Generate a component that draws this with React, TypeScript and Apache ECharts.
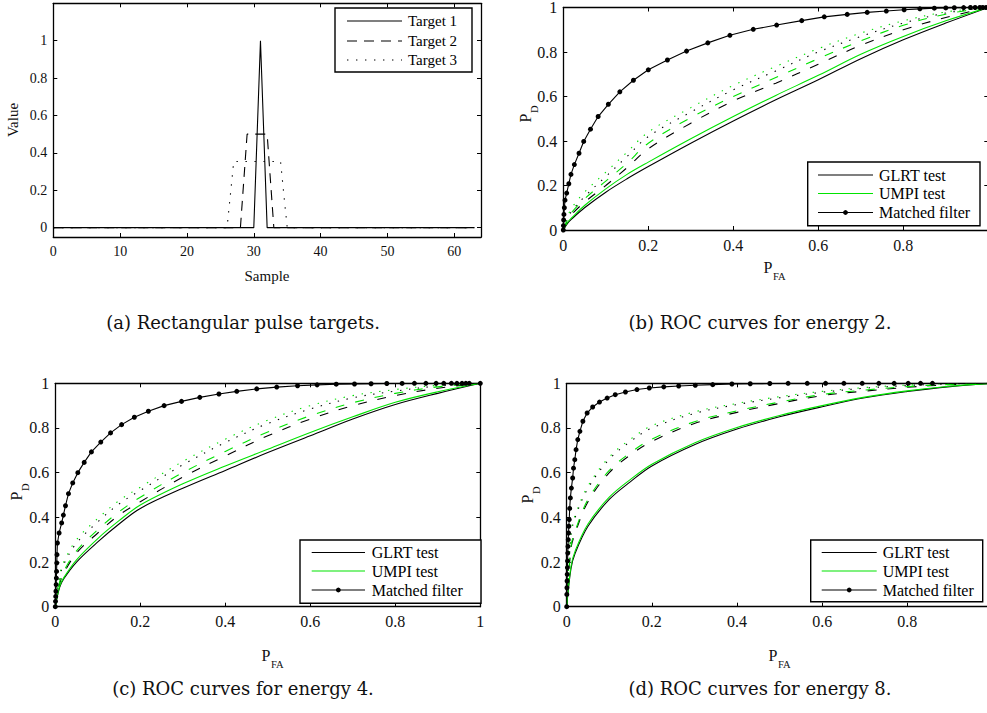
import React, { useEffect, useRef } from 'react';
import * as echarts from 'echarts';

// ---------- (a) Rectangular pulse targets ----------
const sampleIdx = Array.from({ length: 64 }, (_, i) => i);
const target1 = [
  0, 0, 0, 0, 0, 0, 0, 0, 0, 0, 0, 0, 0, 0, 0, 0,
  0, 0, 0, 0, 0, 0, 0, 0, 0, 0, 0, 0, 0, 0, 0, 1,
  0, 0, 0, 0, 0, 0, 0, 0, 0, 0, 0, 0, 0, 0, 0, 0,
  0, 0, 0, 0, 0, 0, 0, 0, 0, 0, 0, 0, 0, 0, 0, 0,
];
const target2 = [
  0, 0, 0, 0, 0, 0, 0, 0, 0, 0, 0, 0, 0, 0, 0, 0,
  0, 0, 0, 0, 0, 0, 0, 0, 0, 0, 0, 0, 0, 0.5, 0.5, 0.5,
  0.5, 0, 0, 0, 0, 0, 0, 0, 0, 0, 0, 0, 0, 0, 0, 0,
  0, 0, 0, 0, 0, 0, 0, 0, 0, 0, 0, 0, 0, 0, 0, 0,
];
const target3 = [
  0, 0, 0, 0, 0, 0, 0, 0, 0, 0, 0, 0, 0, 0, 0, 0,
  0, 0, 0, 0, 0, 0, 0, 0, 0, 0, 0, 0.354, 0.354, 0.354, 0.354, 0.354,
  0.354, 0.354, 0.354, 0, 0, 0, 0, 0, 0, 0, 0, 0, 0, 0, 0, 0,
  0, 0, 0, 0, 0, 0, 0, 0, 0, 0, 0, 0, 0, 0, 0, 0,
];
const sampleTicks = [0, 10, 20, 30, 40, 50, 60];
const valueTicks = [0, 0.2, 0.4, 0.6, 0.8, 1];
const rocTicks = [0, 0.2, 0.4, 0.6, 0.8, 1];
const rocTicksClipped = [0, 0.2, 0.4, 0.6, 0.8]; // "1" falls outside the page in (b) and (d)

// ---------- ROC curves: common P_FA grid ----------
const pfa = [0, 0.01, 0.02, 0.05, 0.1, 0.15, 0.2, 0.3, 0.4, 0.5, 0.6, 0.7, 0.8, 0.9, 1];

// energy 2
const e2GlrtT1 = [0, 0.03, 0.05, 0.1, 0.17, 0.23, 0.285, 0.39, 0.49, 0.585, 0.675, 0.77, 0.855, 0.93, 1];
const e2UmpiT1 = [0, 0.035, 0.055, 0.11, 0.185, 0.25, 0.305, 0.41, 0.51, 0.605, 0.695, 0.79, 0.87, 0.94, 1];
const e2GlrtT2 = [0, 0.04, 0.07, 0.125, 0.2, 0.28, 0.365, 0.48, 0.58, 0.66, 0.745, 0.83, 0.9, 0.955, 1];
const e2UmpiT2 = [0, 0.05, 0.08, 0.14, 0.22, 0.3, 0.39, 0.505, 0.6, 0.685, 0.77, 0.85, 0.92, 0.97, 1];
const e2GlrtT3 = [0, 0.05, 0.085, 0.15, 0.24, 0.33, 0.42, 0.53, 0.63, 0.715, 0.8, 0.87, 0.93, 0.975, 1];
const e2UmpiT3 = [0, 0.06, 0.1, 0.17, 0.26, 0.35, 0.44, 0.55, 0.65, 0.735, 0.815, 0.885, 0.94, 0.98, 1];
const e2MfX = [0, 0.0003, 0.0008, 0.0015, 0.0025, 0.004, 0.008, 0.013, 0.018, 0.026, 0.037, 0.048, 0.064, 0.082, 0.106, 0.133, 0.165, 0.2, 0.245, 0.29, 0.34, 0.392, 0.447, 0.502, 0.561, 0.614, 0.668, 0.715, 0.76, 0.802, 0.839, 0.873, 0.9, 0.92, 0.942, 0.958, 0.969, 0.98, 0.987, 0.995, 1];
const e2MfY = [0, 0.02, 0.045, 0.07, 0.1, 0.134, 0.166, 0.208, 0.25, 0.294, 0.345, 0.398, 0.453, 0.51, 0.565, 0.621, 0.673, 0.72, 0.764, 0.804, 0.841, 0.875, 0.902, 0.921, 0.941, 0.958, 0.969, 0.978, 0.984, 0.99, 0.994, 0.997, 0.998, 0.999, 0.9995, 1, 1, 1, 1, 1, 1];

// energy 4
const e4GlrtT1 = [0, 0.085, 0.125, 0.2, 0.29, 0.37, 0.44, 0.53, 0.61, 0.69, 0.765, 0.84, 0.905, 0.955, 1];
const e4UmpiT1 = [0, 0.09, 0.13, 0.21, 0.305, 0.385, 0.455, 0.55, 0.63, 0.705, 0.78, 0.85, 0.915, 0.962, 1];
const e4GlrtT2 = [0, 0.1, 0.15, 0.24, 0.33, 0.41, 0.47, 0.58, 0.675, 0.765, 0.84, 0.9, 0.945, 0.978, 1];
const e4UmpiT2 = [0, 0.11, 0.16, 0.25, 0.345, 0.425, 0.49, 0.6, 0.695, 0.782, 0.855, 0.913, 0.955, 0.984, 1];
const e4GlrtT3 = [0, 0.13, 0.19, 0.285, 0.38, 0.46, 0.52, 0.635, 0.735, 0.82, 0.885, 0.935, 0.965, 0.988, 1];
const e4UmpiT3 = [0, 0.14, 0.2, 0.3, 0.395, 0.475, 0.535, 0.65, 0.75, 0.835, 0.9, 0.945, 0.972, 0.991, 1];
const e4MfX = [0, 0.0005, 0.001, 0.0015, 0.002, 0.0025, 0.003, 0.0035, 0.004, 0.005, 0.009, 0.015, 0.019, 0.024, 0.031, 0.041, 0.053, 0.068, 0.085, 0.107, 0.13, 0.156, 0.186, 0.219, 0.256, 0.297, 0.34, 0.385, 0.427, 0.474, 0.521, 0.57, 0.616, 0.661, 0.704, 0.743, 0.78, 0.816, 0.845, 0.872, 0.896, 0.914, 0.932, 0.945, 0.957, 0.966, 0.974, 1];
const e4MfY = [0, 0.024, 0.046, 0.069, 0.099, 0.128, 0.158, 0.196, 0.233, 0.285, 0.33, 0.375, 0.41, 0.452, 0.506, 0.554, 0.6, 0.646, 0.693, 0.737, 0.778, 0.815, 0.848, 0.875, 0.9, 0.919, 0.937, 0.952, 0.964, 0.975, 0.983, 0.989, 0.993, 0.996, 0.997, 0.998, 0.999, 0.9995, 1, 1, 1, 1, 1, 1, 1, 1, 1, 1];

// energy 8
const e8GlrtT1 = [0, 0.17, 0.24, 0.36, 0.48, 0.56, 0.63, 0.725, 0.795, 0.85, 0.895, 0.935, 0.963, 0.985, 1];
const e8UmpiT1 = [0, 0.18, 0.25, 0.37, 0.49, 0.57, 0.638, 0.733, 0.802, 0.856, 0.9, 0.938, 0.966, 0.987, 1];
const e8GlrtT2 = [0, 0.26, 0.33, 0.47, 0.6, 0.68, 0.74, 0.82, 0.87, 0.91, 0.945, 0.965, 0.982, 0.994, 1];
const e8UmpiT2 = [0, 0.27, 0.34, 0.48, 0.61, 0.69, 0.75, 0.828, 0.877, 0.916, 0.95, 0.97, 0.985, 0.995, 1];
const e8GlrtT3 = [0, 0.32, 0.4, 0.53, 0.66, 0.74, 0.8, 0.865, 0.905, 0.935, 0.96, 0.978, 0.99, 0.997, 1];
const e8UmpiT3 = [0, 0.33, 0.41, 0.54, 0.67, 0.75, 0.81, 0.872, 0.91, 0.94, 0.964, 0.981, 0.992, 0.998, 1];
const e8MfX = [0, 0.0003, 0.0006, 0.0009, 0.0012, 0.0016, 0.002, 0.0025, 0.003, 0.0036, 0.0043, 0.005, 0.006, 0.007, 0.0086, 0.011, 0.014, 0.016, 0.019, 0.022, 0.026, 0.031, 0.038, 0.048, 0.061, 0.077, 0.095, 0.114, 0.138, 0.165, 0.194, 0.228, 0.263, 0.302, 0.343, 0.388, 0.431, 0.477, 0.52, 0.565, 0.608, 0.651, 0.694, 0.733, 0.769, 0.802, 0.831, 0.859, 1];
const e8MfY = [0, 0.055, 0.085, 0.115, 0.145, 0.175, 0.205, 0.24, 0.27, 0.3, 0.33, 0.36, 0.39, 0.44, 0.487, 0.531, 0.576, 0.62, 0.658, 0.703, 0.748, 0.785, 0.83, 0.867, 0.894, 0.916, 0.934, 0.949, 0.961, 0.972, 0.979, 0.984, 0.988, 0.991, 0.994, 0.997, 0.998, 0.999, 1, 1, 1, 1, 1, 1, 1, 1, 1, 1, 1];

const legendA = ['Target 1', 'Target 2', 'Target 3'];
const legendRoc = ['GLRT test', 'UMPI test', 'Matched filter'];
const captions = [
  '(a) Rectangular pulse targets.',
  '(b) ROC curves for energy 2.',
  '(c) ROC curves for energy 4.',
  '(d) ROC curves for energy 8.',
];

const SERIF = '"Liberation Serif", "Times New Roman", serif';
const CAPFONT = '"DejaVu Serif", serif';
const GREEN = '#00e400';
const DASH_A = [10, 7];
const DOT = [1.4, 7.6];
const DASH_R = [9, 11];

const zip = (xs: number[], ys: number[]) => xs.map((x, i) => [x, ys[i]]);

function makeAxes(gi: number, xmin: number, xmax: number, ymin: number, ymax: number, xt: number[], xl: number[], yt: number[], fs: number, yLineHeight?: number) {
  const line = { show: true, onZero: false, lineStyle: { color: '#000', width: 1.3 } };
  const tickStyle = { color: '#000', width: 1 };
  const lab = { color: '#111', fontFamily: SERIF, fontSize: fs };
  const xs = [
    {
      type: 'value', gridIndex: gi, min: xmin, max: xmax, position: 'bottom',
      axisLine: line, splitLine: { show: false },
      axisTick: { show: true, inside: true, length: 4, customValues: xt, lineStyle: tickStyle },
      axisLabel: { show: true, customValues: xl, margin: 7, ...lab },
    },
    {
      type: 'value', gridIndex: gi, min: xmin, max: xmax, position: 'top',
      axisLine: line, splitLine: { show: false },
      axisTick: { show: true, inside: true, length: 4, customValues: xt, lineStyle: tickStyle },
      axisLabel: { show: false },
    },
  ];
  const ys = [
    {
      type: 'value', gridIndex: gi, min: ymin, max: ymax, position: 'left',
      axisLine: line, splitLine: { show: false },
      axisTick: { show: true, inside: true, length: 4, customValues: yt, lineStyle: tickStyle },
      axisLabel: { show: true, customValues: yt, margin: 6, ...lab, ...(yLineHeight ? { lineHeight: yLineHeight } : {}) },
    },
    {
      type: 'value', gridIndex: gi, min: ymin, max: ymax, position: 'right',
      axisLine: line, splitLine: { show: false },
      axisTick: { show: true, inside: true, length: 4, customValues: yt, lineStyle: tickStyle },
      axisLabel: { show: false },
    },
  ];
  return { xs, ys };
}

function lineSeries(gi: number, data: number[][], color: string, type: any, smooth: any = 0.35, extra: any = {}) {
  return {
    type: 'line', xAxisIndex: gi * 2, yAxisIndex: gi * 2, data,
    showSymbol: false, symbol: 'none', smooth,
    lineStyle: { color, width: 1.1, type },
    silent: true, clip: true, z: 2,
    ...extra,
  };
}

function rocSeries(gi: number, curves: number[][], mfx: number[], mfy: number[]) {
  const [g1, u1, g2, u2, g3, u3] = curves;
  return [
    lineSeries(gi, zip(pfa, g1), '#000', 'solid'),
    lineSeries(gi, zip(pfa, g2), '#000', DASH_R),
    lineSeries(gi, zip(pfa, g3), '#000', DOT),
    lineSeries(gi, zip(pfa, u1), GREEN, 'solid'),
    lineSeries(gi, zip(pfa, u2), GREEN, DASH_R),
    lineSeries(gi, zip(pfa, u3), GREEN, DOT),
    {
      type: 'line', xAxisIndex: gi * 2, yAxisIndex: gi * 2, data: zip(mfx, mfy),
      showSymbol: true, symbol: 'circle', symbolSize: 5, smooth: false,
      itemStyle: { color: '#000' }, lineStyle: { color: '#000', width: 1.1 },
      silent: true, clip: true, z: 3,
    },
  ];
}

function legendBox(x: number, y: number, w: number, h: number, lx1: number, lx2: number, tx: number, ys: number[], labels: string[], styles: any[], fs: number) {
  const els: any[] = [
    { type: 'rect', z: 100, shape: { x, y, width: w, height: h }, style: { fill: '#fff', stroke: '#000', lineWidth: 1.4 } },
  ];
  labels.forEach((lab, i) => {
    const s = styles[i];
    els.push({ type: 'line', z: 101, shape: { x1: lx1, y1: ys[i], x2: lx2, y2: ys[i] }, style: { stroke: s.color, lineWidth: 1.1, lineDash: s.dash || null } });
    if (s.dot) els.push({ type: 'circle', z: 102, shape: { cx: (lx1 + lx2) / 2, cy: ys[i], r: 2.4 }, style: { fill: '#000' } });
    els.push({ type: 'text', z: 102, x: tx, y: ys[i], style: { text: lab, fontFamily: SERIF, fontSize: fs, fill: '#000', align: 'left', verticalAlign: 'middle' } });
  });
  return els;
}

function subLabelH(px: number, py: number, main: string, sub: string) {
  return [
    { type: 'text', z: 100, x: px, y: py, style: { text: main, fontFamily: SERIF, fontSize: 16, fill: '#111', align: 'center', verticalAlign: 'middle' } },
    { type: 'text', z: 100, x: px + 5, y: py + 9, style: { text: sub, fontFamily: SERIF, fontSize: 10.5, fill: '#111', align: 'left', verticalAlign: 'middle' } },
  ];
}

function subLabelV(px: number, py: number, main: string, sub: string) {
  return {
    type: 'group', x: px, y: py, rotation: Math.PI / 2, z: 100,
    children: [
      { type: 'text', x: 0, y: 0, style: { text: main, fontFamily: SERIF, fontSize: 16, fill: '#111', align: 'center', verticalAlign: 'middle' } },
      { type: 'text', x: 5, y: 9, style: { text: sub, fontFamily: SERIF, fontSize: 10.5, fill: '#111', align: 'left', verticalAlign: 'middle' } },
    ],
  };
}

export default function App() {
  const ref = useRef<HTMLDivElement>(null);
  useEffect(() => {
    if (!ref.current) return;
    const chart = echarts.init(ref.current, null, { renderer: 'svg' });

    const a = makeAxes(0, 0, 64, -0.05, 1.2, sampleTicks, sampleTicks, valueTicks, 14);
    const b = makeAxes(1, 0, 1, 0, 1, rocTicks, rocTicksClipped, rocTicks, 16, 12);
    const c = makeAxes(2, 0, 1, 0, 1, rocTicks, rocTicks, rocTicks, 16);
    const d = makeAxes(3, 0, 1, 0, 1, rocTicks, rocTicksClipped, rocTicks, 16);

    const seriesA = [
      lineSeries(0, zip(sampleIdx, target3), '#000', DOT, false),
      lineSeries(0, zip(sampleIdx, target2), '#000', DASH_A, false),
      lineSeries(0, zip(sampleIdx, target1), '#000', 'solid', false),
    ];

    const graphic: any[] = [
      ...legendBox(335, 8, 137, 64, 347, 402, 408, [21, 41, 60], legendA,
        [{ color: '#000' }, { color: '#000', dash: DASH_A }, { color: '#000', dash: DOT }], 15),
      ...legendBox(807.7, 162, 172.3, 63.7, 818, 873, 879, [175, 193.5, 212.5], legendRoc,
        [{ color: '#000' }, { color: GREEN }, { color: '#000', dot: true }], 16),
      ...legendBox(300, 540, 181, 63.3, 311.7, 365, 371.7, [552.5, 571, 590], legendRoc,
        [{ color: '#000' }, { color: GREEN }, { color: '#000', dot: true }], 16),
      ...legendBox(810.7, 540, 172, 61.7, 821.7, 876.7, 882.7, [552.5, 571, 590], legendRoc,
        [{ color: '#000' }, { color: GREEN }, { color: '#000', dot: true }], 16),
      { type: 'text', z: 100, x: 267, y: 276, style: { text: 'Sample', fontFamily: SERIF, fontSize: 15, fill: '#111', align: 'center', verticalAlign: 'middle' } },
      { type: 'group', x: 13, y: 120, rotation: Math.PI / 2, z: 100, children: [
        { type: 'text', x: 0, y: 0, style: { text: 'Value', fontFamily: SERIF, fontSize: 15, fill: '#111', align: 'center', verticalAlign: 'middle' } },
      ] },
      ...subLabelH(768, 267, 'P', 'FA'),
      ...subLabelH(266, 655, 'P', 'FA'),
      ...subLabelH(773, 655, 'P', 'FA'),
      subLabelV(525, 118, 'P', 'D'),
      subLabelV(16, 496, 'P', 'D'),
      subLabelV(527, 499, 'P', 'D'),
      ...captions.map((t, i) => ({
        type: 'text', z: 100,
        x: i % 2 === 0 ? 243 : 760,
        y: i < 2 ? 322 : 688,
        style: { text: t, fontFamily: CAPFONT, fontSize: 18, fill: '#111', align: 'center', verticalAlign: 'middle' },
      })),
    ];

    const gridBase = { outerBoundsMode: 'none', containLabel: false };
    chart.setOption({
      animation: false,
      backgroundColor: '#fff',
      grid: [
        { ...gridBase, left: 53.3, top: 3.3, width: 427.7, height: 233.7 },
        { ...gridBase, left: 563.3, top: 7.5, width: 425, height: 222.5 },
        { ...gridBase, left: 55.3, top: 383.3, width: 425, height: 223.4 },
        { ...gridBase, left: 566.7, top: 383.3, width: 425.8, height: 223.4 },
      ],
      xAxis: [...a.xs, ...b.xs, ...c.xs, ...d.xs],
      yAxis: [...a.ys, ...b.ys, ...c.ys, ...d.ys],
      series: [
        ...seriesA,
        ...rocSeries(1, [e2GlrtT1, e2UmpiT1, e2GlrtT2, e2UmpiT2, e2GlrtT3, e2UmpiT3], e2MfX, e2MfY),
        ...rocSeries(2, [e4GlrtT1, e4UmpiT1, e4GlrtT2, e4UmpiT2, e4GlrtT3, e4UmpiT3], e4MfX, e4MfY),
        ...rocSeries(3, [e8GlrtT1, e8UmpiT1, e8GlrtT2, e8UmpiT2, e8GlrtT3, e8UmpiT3], e8MfX, e8MfY),
      ],
      graphic,
    });
    return () => chart.dispose();
  }, []);
  return (
    <div
      ref={ref}
      style={{ position: 'fixed', left: 0, top: 0, width: 987, height: 713, background: '#fff', overflow: 'hidden' }}
    />
  );
}
